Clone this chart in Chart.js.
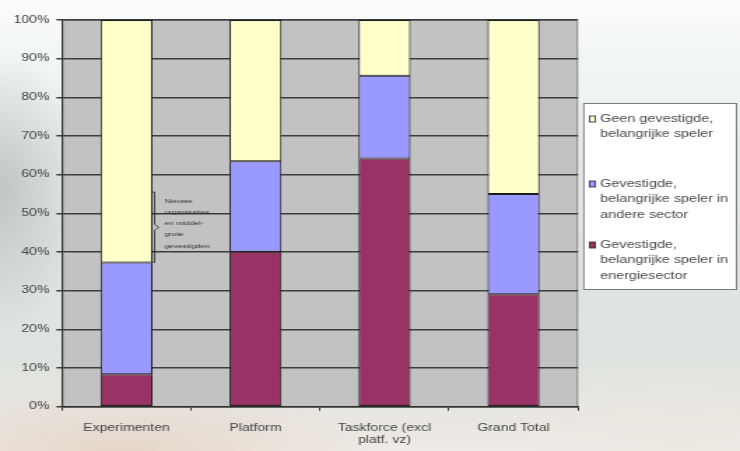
<!DOCTYPE html>
<html>
<head>
<meta charset="utf-8">
<script src="https://cdn.jsdelivr.net/npm/chart.js@4.4.1/dist/chart.umd.min.js"></script>
<style>
  html, body { margin: 0; padding: 0; width: 740px; height: 451px; overflow: hidden; }
  body {
    background:
      radial-gradient(ellipse 90px 140px at 0px 190px, rgba(160,168,170,0.55), rgba(160,168,170,0) 100%),
      radial-gradient(ellipse 260px 60px at 120px 451px, rgba(225,205,190,0.7), rgba(225,205,190,0) 100%),
      radial-gradient(ellipse 200px 90px at 680px 451px, rgba(238,232,226,0.9), rgba(238,232,226,0) 100%),
      linear-gradient(to bottom, #fbfcfc 0%, #f3f6f6 12%, #e7ecea 35%, #dfe5e2 60%, #dde3df 78%, #e8e6e0 92%, #efebe6 100%);
  }
  #wrap {
    position: absolute; left: 0; top: 0;
    width: 529px; height: 451px;
    transform: scaleX(1.39887); transform-origin: 0 0;
  }
  canvas { display: block; }
</style>
</head>
<body>
<div id="wrap"><canvas id="chart" width="529" height="451" style="width:529px;height:451px"></canvas></div>
<script>
// Categories along the x axis
const categories = ['Experimenten', 'Platform', ['Taskforce (excl', 'platf. vz)'], 'Grand Total'];

// Share per category (percent), stacked bottom to top
const energieSector  = [8.4, 40.1, 64.2, 29.1];   // Gevestigde, belangrijke speler in energiesector
const andereSector   = [28.9, 23.4, 21.4, 25.9];  // Gevestigde, belangrijke speler in andere sector
const geenGevestigde = [62.7, 36.5, 14.4, 45.0];  // Geen gevestigde, belangrijke speler

// Series names and their wrapped legend lines
const seriesNames = [
  'Gevestigde, belangrijke speler in energiesector',
  'Gevestigde, belangrijke speler in andere sector',
  'Geen gevestigde, belangrijke speler'
];
const legendLines = [
  ['Geen gevestigde,', 'belangrijke speler'],
  ['Gevestigde,', 'belangrijke speler in', 'andere sector'],
  ['Gevestigde,', 'belangrijke speler in', 'energiesector']
];

// Y axis ticks
const yTickMin = 0;
const yTickMax = 100;
const yTickStep = 10;

// Bracket note next to the first bar
const noteRange = [37.3, 55.5];
const noteLines = ['Nieuwe', 'organisaties', 'en middel-', 'grote', 'gevestigden'];

const FONT = 'Liberation Sans, Arial, sans-serif';
const colors = ['#993366', '#9999ff', '#ffffcc'];

const plotBackground = {
  id: 'plotBackground',
  beforeDraw(chart) {
    const { ctx, chartArea: a } = chart;
    ctx.save();
    ctx.fillStyle = '#c2c2c2';
    ctx.fillRect(a.left, a.top, a.right - a.left, a.bottom - a.top);
    ctx.strokeStyle = '#8a8a8a';
    ctx.lineWidth = 1;
    ctx.beginPath();
    ctx.moveTo(a.left, a.top + 0.5);
    ctx.lineTo(a.right - 0.5, a.top + 0.5);
    ctx.lineTo(a.right - 0.5, a.bottom);
    ctx.stroke();
    ctx.restore();
  }
};

const bracketNote = {
  id: 'bracketNote',
  afterDatasetsDraw(chart) {
    const { ctx } = chart;
    const meta = chart.getDatasetMeta(0);
    const bar = meta.data[0];
    const y = chart.scales.y;
    const x0 = bar.x + bar.width / 2 + 1.5;
    const yTop = y.getPixelForValue(noteRange[1]);
    const yBot = y.getPixelForValue(noteRange[0]);
    const yMid = (yTop + yBot) / 2;
    ctx.save();
    ctx.strokeStyle = '#222';
    ctx.lineWidth = 0.8;
    ctx.beginPath();
    ctx.moveTo(x0 - 1.5, yTop);
    ctx.lineTo(x0, yTop);
    ctx.lineTo(x0, yMid - 3);
    ctx.lineTo(x0 + 3, yMid);
    ctx.lineTo(x0, yMid + 3);
    ctx.lineTo(x0, yBot);
    ctx.lineTo(x0 - 1.5, yBot);
    ctx.stroke();
    ctx.fillStyle = '#333';
    ctx.font = '6px ' + FONT;
    ctx.textBaseline = 'middle';
    const tx = x0 + 7;
    const lh = 11.2;
    const startY = yTop + 9;
    noteLines.forEach((t, i) => ctx.fillText(t, tx, startY + i * lh));
    ctx.restore();
  }
};

const boxLegend = {
  id: 'boxLegend',
  afterDraw(chart) {
    const { ctx } = chart;
    const bx = 416.8, by = 103, bw = 110.2, bh = 187;
    ctx.save();
    ctx.fillStyle = '#ffffff';
    ctx.fillRect(bx, by, bw, bh);
    ctx.strokeStyle = '#7a7a7a';
    ctx.lineWidth = 1;
    ctx.strokeRect(bx + 0.5, by + 0.5, bw - 1, bh - 1);
    const starts = [119, 184, 245];
    const lh = 15.5;
    const n = chart.data.datasets.length;
    ctx.font = '10.3px ' + FONT;
    ctx.textBaseline = 'middle';
    legendLines.forEach((lines, i) => {
      const ds = chart.data.datasets[n - 1 - i];
      const y0 = starts[i];
      ctx.fillStyle = ds.backgroundColor;
      ctx.fillRect(421.4, y0 - 3, 4.2, 6);
      ctx.strokeStyle = '#222';
      ctx.lineWidth = 0.8;
      ctx.strokeRect(421.4, y0 - 3, 4.2, 6);
      ctx.fillStyle = '#4a4a4a';
      lines.forEach((t, j) => ctx.fillText(t, 429, y0 + j * lh));
    });
    ctx.restore();
  }
};

const dataSeries = [energieSector, andereSector, geenGevestigde];

new Chart(document.getElementById('chart'), {
  type: 'bar',
  data: {
    labels: categories,
    datasets: dataSeries.map((d, i) => ({
      label: seriesNames[i],
      data: d,
      backgroundColor: colors[i],
      borderColor: '#1c1c1c',
      borderWidth: 1,
      borderSkipped: false,
      barPercentage: 0.403,
      categoryPercentage: 1
    }))
  },
  options: {
    responsive: false,
    animation: false,
    devicePixelRatio: 1,
    layout: { padding: { left: 0, top: 20, right: 115.8, bottom: 0 } },
    plugins: { legend: { display: false }, tooltip: { enabled: false } },
    scales: {
      x: {
        stacked: true,
        grid: { offset: true, drawOnChartArea: false, drawTicks: true, tickLength: 4, color: '#333', lineWidth: 1 },
        border: { color: '#333', width: 1.5 },
        ticks: { font: { family: FONT, size: 10 }, color: '#444', padding: 12, maxRotation: 0, autoSkip: false },
        afterFit(s) { s.height = 44.3; }
      },
      y: {
        stacked: true,
        min: yTickMin,
        max: yTickMax,
        grid: { color: '#3c3c3c', lineWidth: 1.5, tickLength: 4 },
        border: { color: '#333', width: 1.2 },
        ticks: {
          stepSize: yTickStep,
          font: { family: FONT, size: 10 },
          color: '#444',
          padding: 5,
          callback: v => v + '%'
        },
        afterFit(s) { s.width = 44.3; }
      }
    }
  },
  plugins: [plotBackground, bracketNote, boxLegend]
});
</script>
</body>
</html>
